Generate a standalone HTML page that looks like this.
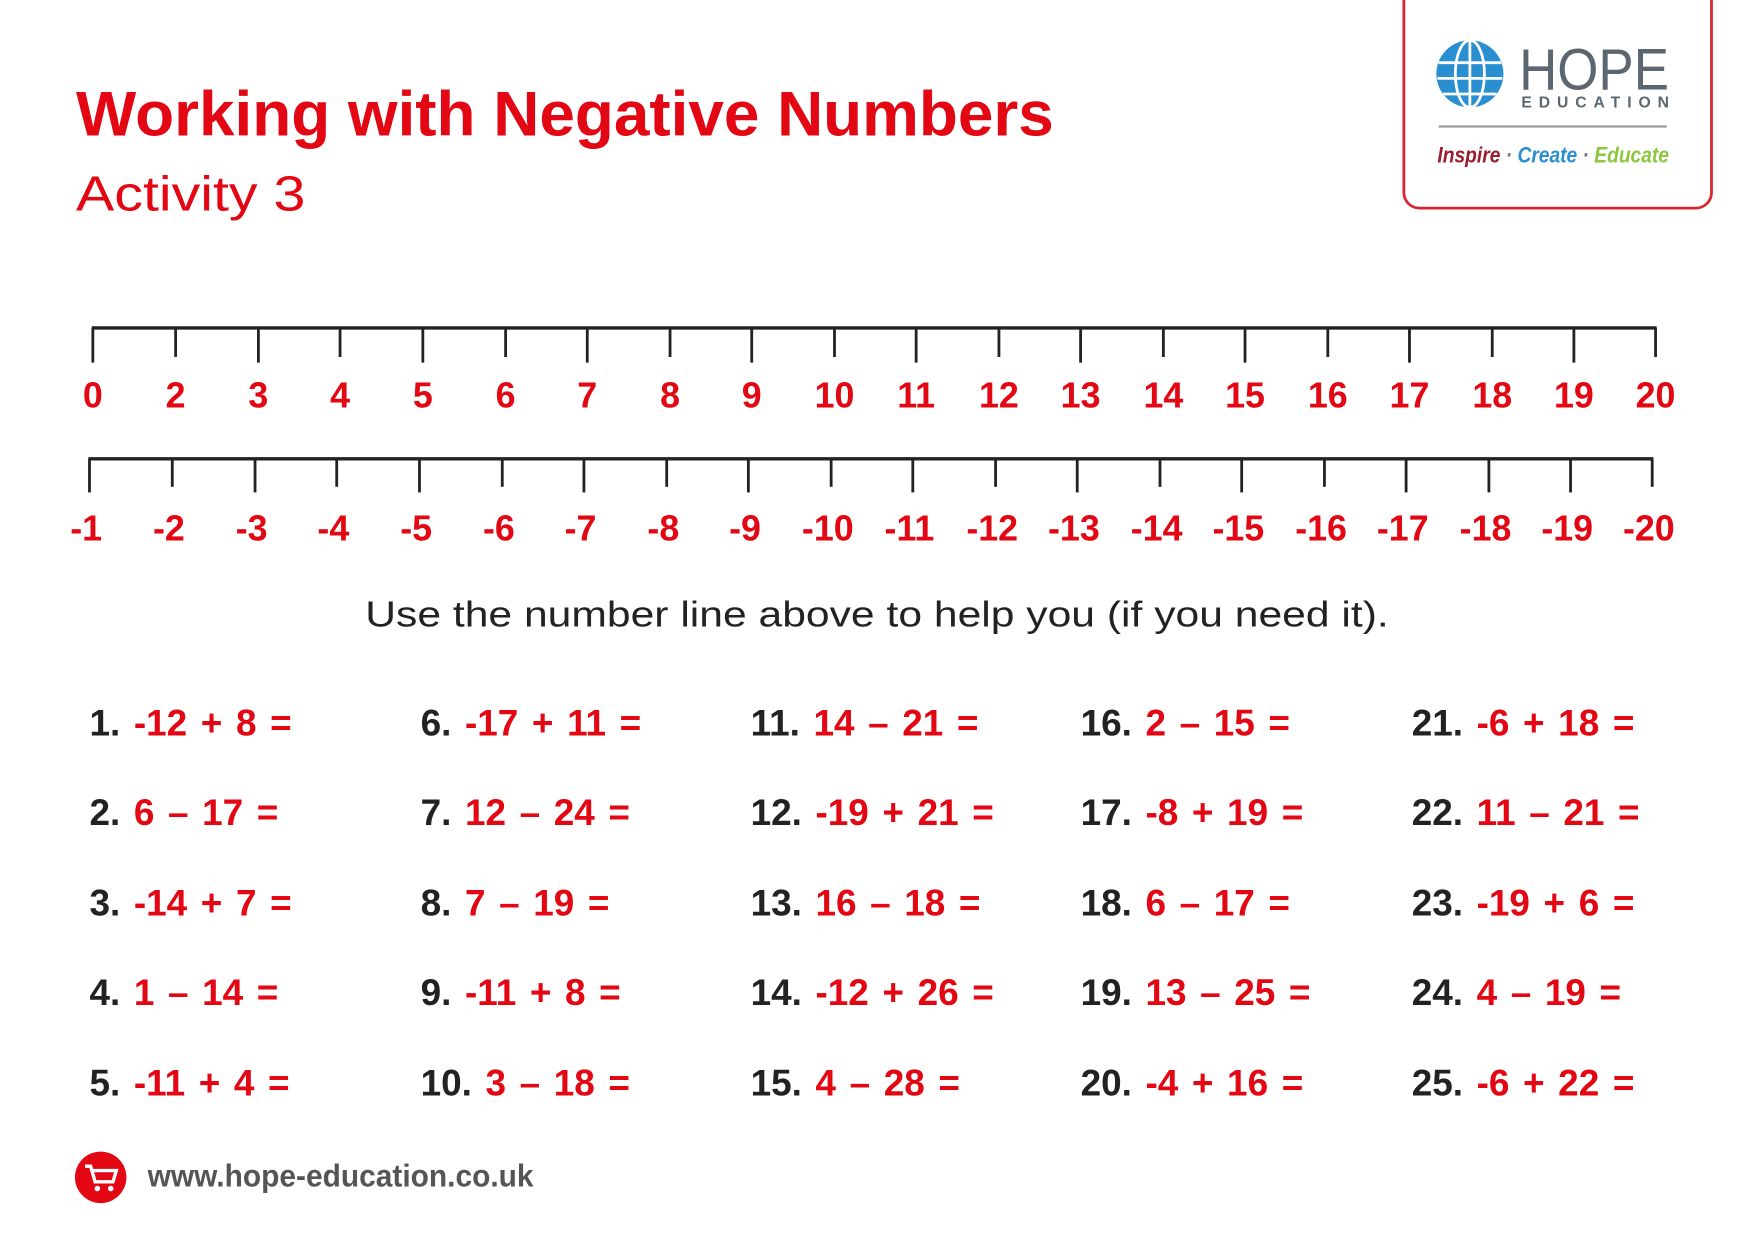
<!DOCTYPE html>
<html><head><meta charset="utf-8"><style>
html,body{margin:0;padding:0;background:#fff;}
svg{display:block;}
text{font-family:"Liberation Sans",sans-serif;}
</style></head><body>
<svg width="1754" height="1240" viewBox="0 0 1568 1108" preserveAspectRatio="none">
<rect width="1568" height="1108" fill="#fff"/>
<text x="68" y="121" font-size="56" font-weight="bold" fill="#e30613" textLength="874" lengthAdjust="spacingAndGlyphs">Working with Negative Numbers</text>
<text x="68" y="188" font-size="44" fill="#e30613" textLength="205" lengthAdjust="spacingAndGlyphs">Activity 3</text>
<!-- logo -->
<rect x="1255" y="-20" width="275" height="206" rx="14" fill="none" stroke="#d9262e" stroke-width="2.5"/>
<circle cx="1314" cy="66" r="30" fill="#2a8fd0"/>
<g stroke="#fff" stroke-width="2.5" fill="none">
<ellipse cx="1314" cy="66" rx="13" ry="30"/>
<line x1="1314" y1="36" x2="1314" y2="96"/>
<line x1="1286" y1="56" x2="1342" y2="56"/>
<line x1="1285" y1="70" x2="1343" y2="70"/>
<line x1="1290" y1="84" x2="1338" y2="84"/>
</g>
<text x="1358" y="80" font-size="52" fill="#5b6670" textLength="134" lengthAdjust="spacingAndGlyphs">HOPE</text>
<text x="1360" y="96" font-size="14" font-weight="bold" fill="#5b6670" textLength="132" lengthAdjust="spacing">EDUCATION</text>
<line x1="1286" y1="113" x2="1490" y2="113" stroke="#999" stroke-width="2"/>
<text x="1285" y="145" font-size="20" font-style="italic" font-weight="bold" font-family="Liberation Serif, serif" textLength="207" lengthAdjust="spacingAndGlyphs"><tspan fill="#9b1b30">Inspire</tspan><tspan fill="#777"> · </tspan><tspan fill="#2a8fd0">Create</tspan><tspan fill="#777"> · </tspan><tspan fill="#8dc63f">Educate</tspan></text>
<!-- number line 1 -->
<line x1="82" y1="293" x2="1481" y2="293" stroke="#222" stroke-width="3"/>
<text x="784" y="560" font-size="32" fill="#222" text-anchor="middle" textLength="915" lengthAdjust="spacingAndGlyphs">Use the number line above to help you (if you need it).</text>
<g font-size="33" font-weight="bold" word-spacing="3">
<text x="80" y="657" fill="#222">1. <tspan fill="#e30613">-12 + 8 =</tspan></text>
<text x="80" y="737" fill="#222">2. <tspan fill="#e30613">6 – 17 =</tspan></text>
<text x="80" y="818" fill="#222">3. <tspan fill="#e30613">-14 + 7 =</tspan></text>
<text x="80" y="898" fill="#222">4. <tspan fill="#e30613">1 – 14 =</tspan></text>
<text x="80" y="979" fill="#222">5. <tspan fill="#e30613">-11 + 4 =</tspan></text>
<text x="376" y="657" fill="#222">6. <tspan fill="#e30613">-17 + 11 =</tspan></text>
<text x="376" y="737" fill="#222">7. <tspan fill="#e30613">12 – 24 =</tspan></text>
<text x="376" y="818" fill="#222">8. <tspan fill="#e30613">7 – 19 =</tspan></text>
<text x="376" y="898" fill="#222">9. <tspan fill="#e30613">-11 + 8 =</tspan></text>
<text x="376" y="979" fill="#222">10. <tspan fill="#e30613">3 – 18 =</tspan></text>
<text x="671" y="657" fill="#222">11. <tspan fill="#e30613">14 – 21 =</tspan></text>
<text x="671" y="737" fill="#222">12. <tspan fill="#e30613">-19 + 21 =</tspan></text>
<text x="671" y="818" fill="#222">13. <tspan fill="#e30613">16 – 18 =</tspan></text>
<text x="671" y="898" fill="#222">14. <tspan fill="#e30613">-12 + 26 =</tspan></text>
<text x="671" y="979" fill="#222">15. <tspan fill="#e30613">4 – 28 =</tspan></text>
<text x="966" y="657" fill="#222">16. <tspan fill="#e30613">2 – 15 =</tspan></text>
<text x="966" y="737" fill="#222">17. <tspan fill="#e30613">-8 + 19 =</tspan></text>
<text x="966" y="818" fill="#222">18. <tspan fill="#e30613">6 – 17 =</tspan></text>
<text x="966" y="898" fill="#222">19. <tspan fill="#e30613">13 – 25 =</tspan></text>
<text x="966" y="979" fill="#222">20. <tspan fill="#e30613">-4 + 16 =</tspan></text>
<text x="1262" y="657" fill="#222">21. <tspan fill="#e30613">-6 + 18 =</tspan></text>
<text x="1262" y="737" fill="#222">22. <tspan fill="#e30613">11 – 21 =</tspan></text>
<text x="1262" y="818" fill="#222">23. <tspan fill="#e30613">-19 + 6 =</tspan></text>
<text x="1262" y="898" fill="#222">24. <tspan fill="#e30613">4 – 19 =</tspan></text>
<text x="1262" y="979" fill="#222">25. <tspan fill="#e30613">-6 + 22 =</tspan></text>
</g>
<!-- number line 2 -->
<line x1="79" y1="410" x2="1478" y2="410" stroke="#222" stroke-width="3"/>
<!-- footer -->
<circle cx="90" cy="1052" r="23" fill="#e30613"/>
<path d="M76 1042 h5 l4 14 h16 l3 -10 h-21" fill="none" stroke="#fff" stroke-width="3"/>
<circle cx="87" cy="1062" r="2.5" fill="#fff"/><circle cx="99" cy="1062" r="2.5" fill="#fff"/>
<text x="132" y="1060" font-size="28" font-weight="bold" fill="#555" textLength="345" lengthAdjust="spacingAndGlyphs">www.hope-education.co.uk</text>

<g stroke="#222" stroke-width="2.5">
<line x1="83" y1="293" x2="83" y2="324"/><line x1="157" y1="293" x2="157" y2="319"/><line x1="231" y1="293" x2="231" y2="324"/><line x1="304" y1="293" x2="304" y2="319"/><line x1="378" y1="293" x2="378" y2="324"/><line x1="452" y1="293" x2="452" y2="319"/><line x1="525" y1="293" x2="525" y2="324"/><line x1="599" y1="293" x2="599" y2="319"/><line x1="672" y1="293" x2="672" y2="324"/><line x1="746" y1="293" x2="746" y2="319"/><line x1="819" y1="293" x2="819" y2="324"/><line x1="893" y1="293" x2="893" y2="319"/><line x1="966" y1="293" x2="966" y2="324"/><line x1="1040" y1="293" x2="1040" y2="319"/><line x1="1113" y1="293" x2="1113" y2="324"/><line x1="1187" y1="293" x2="1187" y2="319"/><line x1="1260" y1="293" x2="1260" y2="324"/><line x1="1334" y1="293" x2="1334" y2="319"/><line x1="1407" y1="293" x2="1407" y2="324"/><line x1="1480" y1="293" x2="1480" y2="319"/>
<line x1="80" y1="410" x2="80" y2="440"/><line x1="154" y1="410" x2="154" y2="435"/><line x1="228" y1="410" x2="228" y2="440"/><line x1="301" y1="410" x2="301" y2="435"/><line x1="375" y1="410" x2="375" y2="440"/><line x1="449" y1="410" x2="449" y2="435"/><line x1="522" y1="410" x2="522" y2="440"/><line x1="596" y1="410" x2="596" y2="435"/><line x1="669" y1="410" x2="669" y2="440"/><line x1="743" y1="410" x2="743" y2="435"/><line x1="816" y1="410" x2="816" y2="440"/><line x1="890" y1="410" x2="890" y2="435"/><line x1="963" y1="410" x2="963" y2="440"/><line x1="1037" y1="410" x2="1037" y2="435"/><line x1="1110" y1="410" x2="1110" y2="440"/><line x1="1184" y1="410" x2="1184" y2="435"/><line x1="1257" y1="410" x2="1257" y2="440"/><line x1="1331" y1="410" x2="1331" y2="440"/><line x1="1404" y1="410" x2="1404" y2="440"/><line x1="1477" y1="410" x2="1477" y2="435"/>
</g>
<g font-size="32" font-weight="bold" fill="#e30613" text-anchor="middle">
<text x="83" y="364">0</text><text x="157" y="364">2</text><text x="231" y="364">3</text><text x="304" y="364">4</text><text x="378" y="364">5</text><text x="452" y="364">6</text><text x="525" y="364">7</text><text x="599" y="364">8</text><text x="672" y="364">9</text><text x="746" y="364">10</text><text x="819" y="364">11</text><text x="893" y="364">12</text><text x="966" y="364">13</text><text x="1040" y="364">14</text><text x="1113" y="364">15</text><text x="1187" y="364">16</text><text x="1260" y="364">17</text><text x="1334" y="364">18</text><text x="1407" y="364">19</text><text x="1480" y="364">20</text>
<text x="77" y="483">-1</text><text x="151" y="483">-2</text><text x="225" y="483">-3</text><text x="298" y="483">-4</text><text x="372" y="483">-5</text><text x="446" y="483">-6</text><text x="519" y="483">-7</text><text x="593" y="483">-8</text><text x="666" y="483">-9</text><text x="740" y="483">-10</text><text x="813" y="483">-11</text><text x="887" y="483">-12</text><text x="960" y="483">-13</text><text x="1034" y="483">-14</text><text x="1107" y="483">-15</text><text x="1181" y="483">-16</text><text x="1254" y="483">-17</text><text x="1328" y="483">-18</text><text x="1401" y="483">-19</text><text x="1474" y="483">-20</text>
</g>
</svg>
</body></html>
